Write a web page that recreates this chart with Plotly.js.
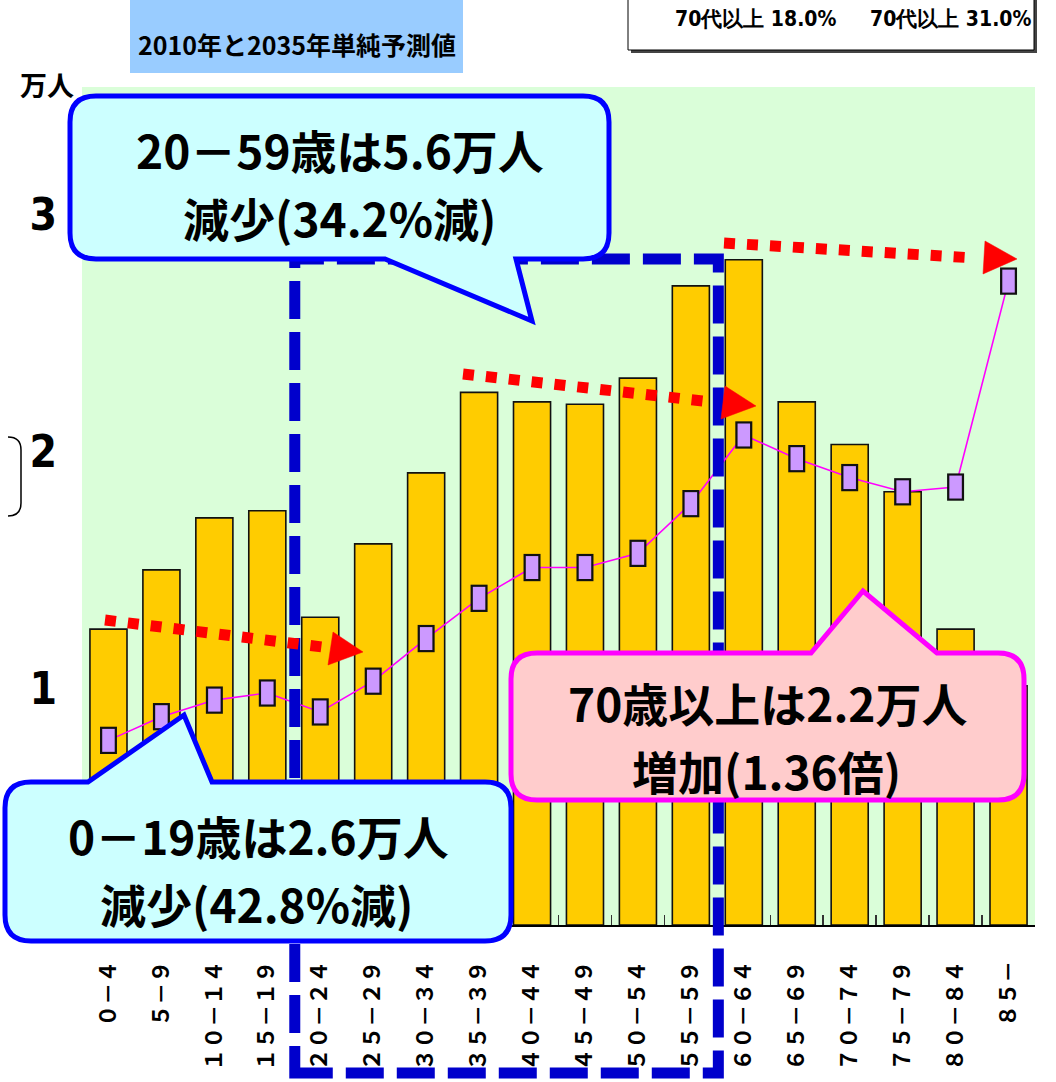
<!DOCTYPE html>
<html><head><meta charset="utf-8">
<script src="https://cdn.plot.ly/plotly-3.0.1.min.js"></script>
<style>html,body{margin:0;padding:0;background:#fff;overflow:hidden}</style>
</head><body><div id="chart" style="width:1056px;height:1082px"></div>
<script>
// ---------- data ----------
const categories = ['０－４','５－９','１０－１４','１５－１９','２０－２４','２５－２９','３０－３４','３５－３９','４０－４４','４５－４９','５０－５４','５５－５９','６０－６４','６５－６９','７０－７４','７５－７９','８０－８４','８５－'];
const pop2010 = [1.25,1.50,1.72,1.75,1.30,1.61,1.91,2.25,2.21,2.20,2.31,2.70,2.81,2.21,2.03,1.83,1.25,1.01];
const pop2035 = [0.78,0.88,0.95,0.98,0.90,1.03,1.21,1.38,1.51,1.51,1.57,1.78,2.07,1.97,1.89,1.83,1.85,2.72];
const yTickVals = [0,1,2,3];
const yTickText = ['0','1','2','3'];
const yUnit = '万人';
const titleText = '2010年と2035年単純予測値';
const topBoxTexts = ['70代以上 18.0%','70代以上 31.0%'];
const calloutTop = ['20－59歳は5.6万人','減少(34.2%減)'];
const calloutLeft = ['0－19歳は2.6万人','減少(42.8%減)'];
const calloutPink = ['70歳以上は2.2万人','増加(1.36倍)'];

// ---------- layout helpers (pixel -> paper) ----------
const W = 1056, H = 1082, ML = 82, MR = 21, MT = 87, MB = 157;
const PW = W - ML - MR, PH = H - MT - MB;
const px = x => (x - ML) / PW;
const py = y => (H - MB - y) / PH;
const P = (x, y) => px(x).toFixed(5) + ',' + py(y).toFixed(5);
const nCat = categories.length;
const boundaryPx = k => ML + PW * k / nCat;

function callout(x0, y0, x1, y1, r, tail) {
  let d = 'M' + P(x0 + r, y0);
  if (tail.side === 'top') {
    d += ' L' + P(tail.a, y0) + ' L' + P(tail.tx, tail.ty) + ' L' + P(tail.b, y0);
  }
  d += ' L' + P(x1 - r, y0) + ' Q' + P(x1, y0) + ' ' + P(x1, y0 + r);
  d += ' L' + P(x1, y1 - r) + ' Q' + P(x1, y1) + ' ' + P(x1 - r, y1);
  if (tail.side === 'bottom') {
    d += ' L' + P(tail.b, y1) + ' L' + P(tail.tx, tail.ty) + ' L' + P(tail.a, y1);
  }
  d += ' L' + P(x0 + r, y1) + ' Q' + P(x0, y1) + ' ' + P(x0, y1 - r);
  d += ' L' + P(x0, y0 + r) + ' Q' + P(x0, y0) + ' ' + P(x0 + r, y0) + ' Z';
  return d;
}
function tri(a, b, c) { return 'M' + P(a[0], a[1]) + ' L' + P(b[0], b[1]) + ' L' + P(c[0], c[1]) + ' Z'; }
function rectP(x0, y0, x1, y1, fill, line, lw, extra) {
  return Object.assign({type:'rect', xref:'paper', yref:'paper', x0:px(x0), x1:px(x1), y0:py(y1), y1:py(y0),
    fillcolor: fill, line:{color: line, width: lw}, layer:'above'}, extra || {});
}
function dotted(x0, y0, x1, y1) {
  return {type:'line', xref:'paper', yref:'paper', x0:px(x0), y0:py(y0), x1:px(x1), y1:py(y1),
    line:{color:'#ff0000', width:11, dash:'11px,12px'}, layer:'above'};
}
function pathShape(d, fill, line, lw) {
  return {type:'path', xref:'paper', yref:'paper', path:d, fillcolor:fill, line:{color:line, width:lw}, layer:'above'};
}

const POP = '"Noto Sans CJK JP", "Noto Sans", sans-serif';
const NARROW = '"Liberation Sans Narrow", "DejaVu Sans Condensed", sans-serif';

function textAnn(t, x, y, size, family, color) {
  return {xref:'paper', yref:'paper', x:px(x), y:py(y), xanchor:'center', yanchor:'middle', borderpad:0,
    text:t, showarrow:false, font:{family: family, size: size, color: color || '#000', weight: 700}};
}

// ---------- traces ----------
const bars = {type:'bar', x:categories, y:pop2010, width:0.7,
  marker:{color:'#ffcc00', line:{color:'#111', width:1.6}}, hoverinfo:'skip', showlegend:false};
const line2035 = {type:'scatter', mode:'lines+markers', x:categories, y:pop2035,
  line:{color:'#ff00ff', width:1.6},
  marker:{symbol:'line-ns-open', size:19.5, color:'#111', line:{width:17}}, hoverinfo:'skip', showlegend:false};
const fill2035 = {type:'scatter', mode:'markers', x:categories, y:pop2035,
  marker:{symbol:'line-ns-open', size:16.4, color:'#cc99ff', line:{width:12.5}}, hoverinfo:'skip', showlegend:false};

// ---------- shapes ----------
const shapes = [
  rectP(130, -2, 463, 73, '#99ccff', 'rgba(0,0,0,0)', 0),
  rectP(631, -2, 1037, 53, '#444', '#444', 0),
  rectP(628, -4, 1034, 50, '#ffffff', '#000', 1),
  pathShape('M' + P(8, 437) + ' Q' + P(21, 437) + ' ' + P(21, 450) + ' L' + P(21, 503) + ' Q' + P(21, 516) + ' ' + P(8, 516),
    'rgba(0,0,0,0)', '#000', 1.5),
  {type:'rect', xref:'paper', yref:'paper', x0:px(boundaryPx(4) + 1), x1:px(boundaryPx(12) + 1), y0:py(1073), y1:py(259),
    line:{color:'#0000cc', width:11, dash:'38px,13px'}, fillcolor:'rgba(0,0,0,0)', layer:'above'},
  dotted(105, 620, 322, 647),
  pathShape(tri([333, 632], [363, 652], [328, 665]), '#ff0000', '#ff0000', 0.5),
  dotted(463, 374, 712, 402),
  pathShape(tri([725, 386], [756, 406], [721, 419]), '#ff0000', '#ff0000', 0.5),
  dotted(724, 243, 975, 258),
  pathShape(tri([985, 241], [1017, 259], [983, 274]), '#ff0000', '#ff0000', 0.5),
  pathShape(callout(70, 96, 609, 259, 26, {side:'bottom', a:385, b:516, tx:532, ty:321}), '#ccffff', '#0000ff', 5),
  pathShape(callout(5, 782, 511, 941, 26, {side:'top', a:88, b:212, tx:184, ty:715}), '#ccffff', '#0000ff', 5),
  pathShape(callout(511, 653, 1024, 800, 26, {side:'top', a:811, b:937, tx:863, ty:591}), '#ffcccc', '#ff00ff', 5)
];

// ---------- annotations ----------
const CS = 46, GAP = 34; // callout font size, half line distance
const annotations = [
  textAnn(titleText, 297, 44, 25, POP),
  textAnn(yUnit, 47, 84, 27, POP),
  textAnn(topBoxTexts[0], 755, 19, 21, NARROW),
  textAnn(topBoxTexts[1], 950, 19, 21, NARROW),
  textAnn(calloutTop[0], 340, 183 - GAP, CS, POP),
  textAnn(calloutTop[1], 339, 183 + GAP, CS, POP),
  textAnn(calloutLeft[0], 258, 869 - GAP, CS, POP),
  textAnn(calloutLeft[1], 256, 869 + GAP, CS, POP),
  textAnn(calloutPink[0], 768, 736 - GAP, CS, POP),
  textAnn(calloutPink[1], 766, 736 + GAP, CS, POP)
];

const layout = {
  width: W, height: H,
  margin:{l:ML, r:MR, t:MT, b:MB, pad:0},
  paper_bgcolor:'#ffffff', plot_bgcolor:'#dafed9',
  bargap:0.3, showlegend:false,
  xaxis:{type:'category', range:[-0.5, nCat - 0.5], tickangle:-90, tickson:'boundaries', ticks:'inside', ticklen:10, tickwidth:1.5, tickcolor:'#333',
    showline:true, linecolor:'#000', linewidth:2, showgrid:false, zeroline:false, ticklabelstandoff:25,
    tickfont:{family: POP, size:22, color:'#000', weight:700}, fixedrange:true},
  yaxis:{range:[0, 3.54], tickvals:yTickVals, ticktext:yTickText, showgrid:false, zeroline:false, showline:false,
    ticks:'', ticklabelstandoff:24, tickfont:{family: NARROW, size:44, color:'#000', weight:700}, fixedrange:true},
  shapes: shapes,
  annotations: annotations
};

Plotly.newPlot('chart', [bars, line2035, fill2035], layout, {displayModeBar:false, staticPlot:true});
</script></body></html>
